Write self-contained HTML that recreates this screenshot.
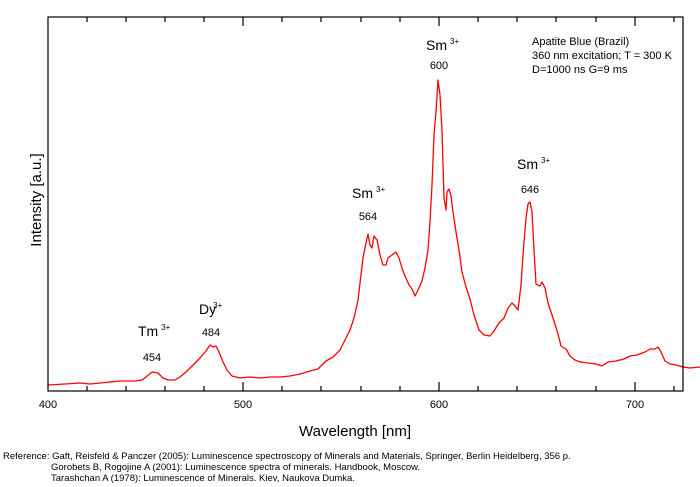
<!DOCTYPE html>
<html><head><meta charset="utf-8"><style>body{margin:0;background:#fff}svg{display:block;font-family:"Liberation Sans",Arial,sans-serif}</style></head><body>
<svg width="700" height="487" viewBox="0 0 700 487" xmlns="http://www.w3.org/2000/svg">
<rect width="700" height="487" fill="#fff"/>
<polyline fill="none" stroke="#ff0000" stroke-width="1.3" stroke-linejoin="round" points="48,385 65,384 80,383 90,384 100,383 110,382 120,381 135,381 142,380 146,377 152,372 158,373 163,378 168,380 175,380 180,377 186,372 192,366 200,358 206,351 210,345 213,347 216,346 219,352 223,362 227,370 232,376 240,378 250,377 260,378 270,377 280,377 290,376 300,374 310,371 318,369 322,365 326,361 333,357 340,350 345,340 350,330 354,318 358,300 361,275 363,258 366,243 368,234 370,245 372,248 374,236 377,240 380,255 383,265 386,265 388,258 392,255 396,252 399,258 402,268 405,276 409,285 412,289 415,296 418,290 422,281 425,268 428,250 430,222 432,185 434,135 436,112 438,80 440,95 442,130 444,198 446,210 447,192 449,189 451,196 453,212 456,232 459,250 462,272 466,287 470,299 474,315 479,330 484,335 490,336 494,331 499,323 504,318 508,308 512,303 515,306 518,310 521,285 523,255 526,218 528,204 530,202 532,212 534,250 536,284 540,286 542,282 545,288 548,303 553,318 558,334 561,346 566,349 570,356 575,360 580,362 588,363 596,364 602,366 608,362 616,361 624,359 630,356 637,355 645,352 650,349 655,349 658,347 661,352 665,361 670,364 676,365 683,367 690,368 700,367"/>
<rect x="48" y="17" width="635" height="374" fill="none" stroke="#000" stroke-width="1.2"/>
<g stroke="#000" stroke-width="1.2">
<path d="M87,391v-5M126,391v-5M165,391v-5M204,391v-5M243,391v-9M282,391v-5M321,391v-5M361,391v-5M400,391v-5M439,391v-9M478,391v-5M517,391v-5M556,391v-5M596,391v-5M635,391v-9M674,391v-5"/>
<path d="M87,17v5M126,17v5M165,17v5M204,17v5M243,17v9M282,17v5M321,17v5M361,17v5M400,17v5M439,17v9M478,17v5M517,17v5M556,17v5M596,17v5M635,17v9M674,17v5"/>
</g>
<g font-size="11" text-anchor="middle" fill="#000">
<text x="48" y="408">400</text><text x="243" y="408">500</text><text x="439" y="408">600</text><text x="635" y="408">700</text>
<text x="152" y="361">454</text><text x="211" y="336">484</text><text x="368" y="220">564</text><text x="439" y="69">600</text><text x="530" y="193">646</text>
</g>
<g font-size="14" fill="#000">
<text x="138" y="336">Tm<tspan font-size="8" dy="-6" dx="3">3+</tspan></text>
<text x="199" y="314">Dy<tspan font-size="8" dy="-6" dx="-3">3+</tspan></text>
<text x="352" y="198">Sm<tspan font-size="8" dy="-6" dx="3">3+</tspan></text>
<text x="426" y="50">Sm<tspan font-size="8" dy="-6" dx="3">3+</tspan></text>
<text x="517" y="169">Sm<tspan font-size="8" dy="-6" dx="3">3+</tspan></text>
</g>
<g font-size="11" fill="#000">
<text x="532" y="45">Apatite Blue (Brazil)</text>
<text x="532" y="59">360 nm excitation; T = 300 K</text>
<text x="532" y="73">D=1000 ns G=9 ms</text>
</g>
<text x="355" y="436" font-size="15" text-anchor="middle">Wavelength [nm]</text>
<text transform="translate(41,200) rotate(-90)" font-size="15" text-anchor="middle">Intensity [a.u.]</text>
<g font-size="9.5" fill="#000">
<text x="3" y="459">Reference: Gaft, Reisfeld &amp; Panczer (2005): Luminescence spectroscopy of Minerals and Materials, Springer, Berlin Heidelberg, 356 p.</text>
<text x="51" y="470">Gorobets B, Rogojine A (2001): Luminescence spectra of minerals. Handbook, Moscow.</text>
<text x="51" y="481">Tarashchan A (1978): Luminescence of Minerals. Kiev, Naukova Dumka.</text>
</g>
</svg>
</body></html>
